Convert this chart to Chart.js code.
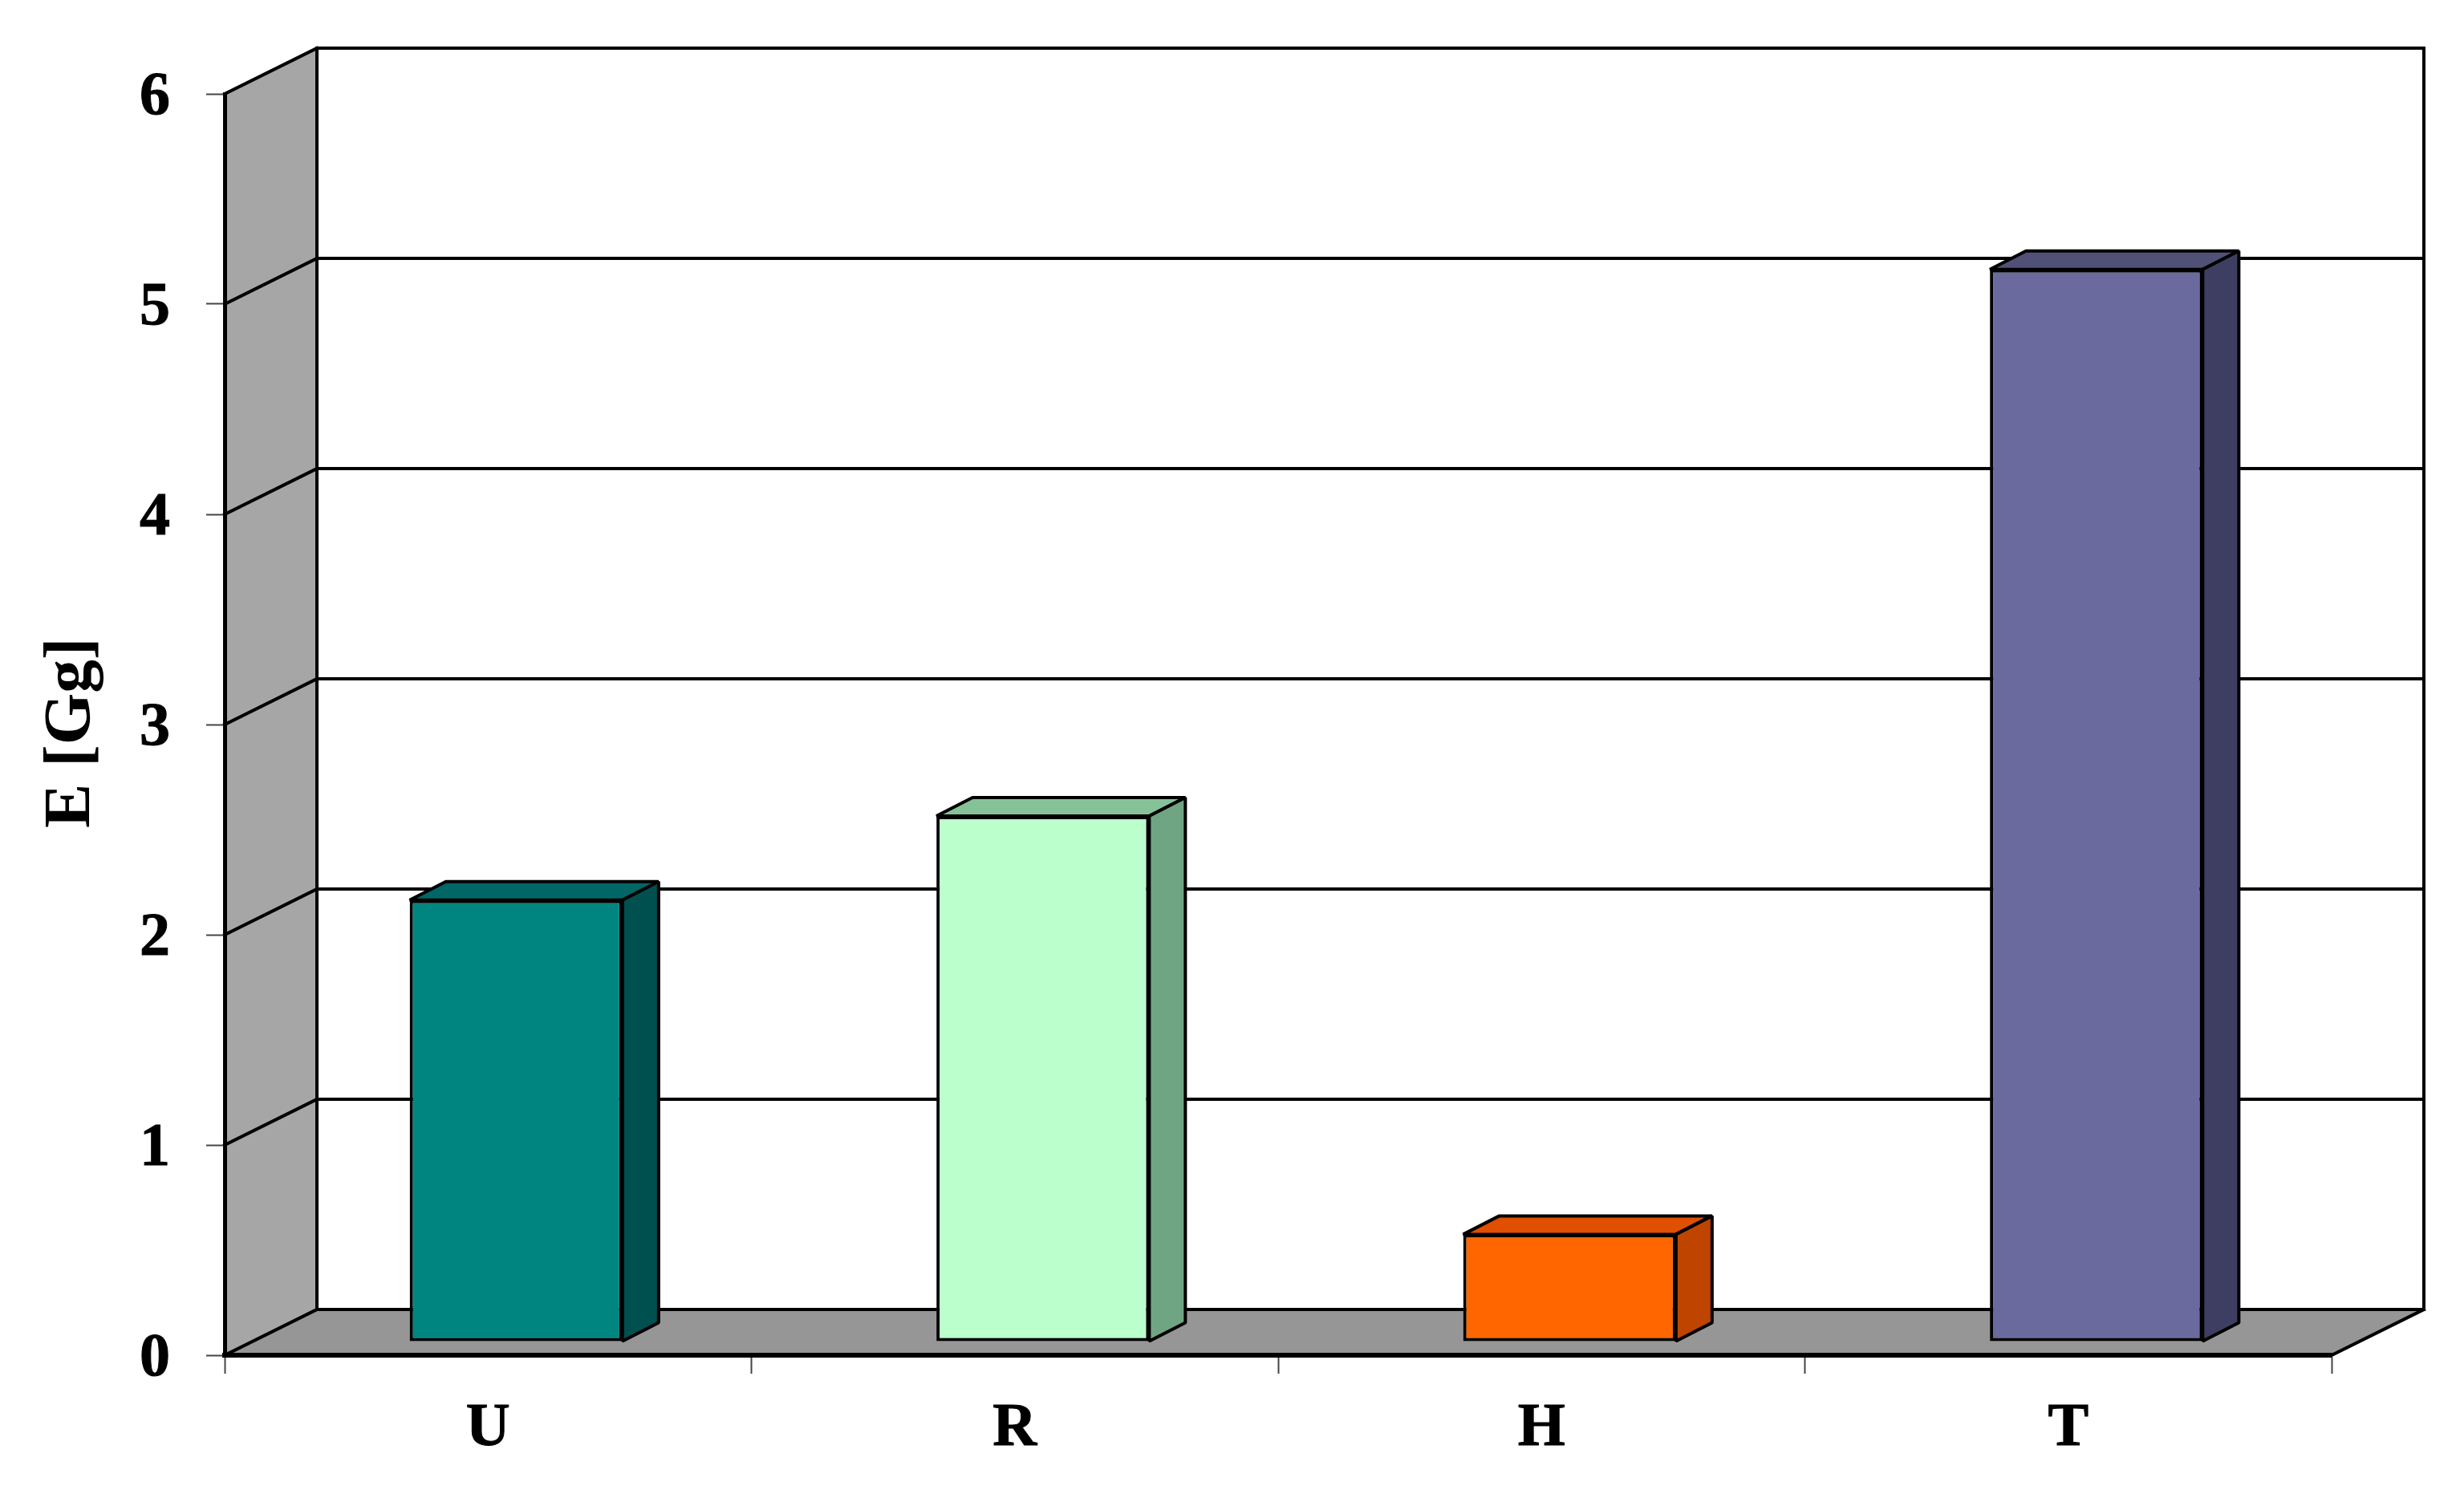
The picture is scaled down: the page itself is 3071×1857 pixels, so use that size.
<!DOCTYPE html>
<html>
<head>
<meta charset="utf-8">
<title>E [Gg]</title>
<script src="https://cdn.jsdelivr.net/npm/chart.js@4/dist/chart.umd.js"></script>
<style>
	html, body { margin: 0; padding: 0; background: #fff; }
	canvas { display: block; }
</style>
</head>
<body>
<canvas id="chart" width="3071" height="1857"></canvas>
<script>
const categories = ["U", "R", "H", "T"];
const emissions = [2.1, 2.5, 0.51, 5.1];

const frontColors = ["#008580", "#BBFFCC", "#FF6600", "#6A6A9F"];
const topColors = ["#006666", "#86C298", "#E05000", "#515178"];
const sideColors = ["#005050", "#70A583", "#BE4400", "#3E3E62"];

const WALL_DX = 115; // depth of the box
const WALL_DY = 57;
const BAR_SHIFT_X = 35; // bars stand a bit behind the front edge
const BAR_SHIFT_Y = 17;
const BAR_DX = 45; // depth of one bar
const BAR_DY = 23;

function poly(ctx, pts, fill) {
	ctx.beginPath();
	pts.forEach((p, i) => (i ? ctx.lineTo(p[0], p[1]) : ctx.moveTo(p[0], p[1])));
	ctx.closePath();
	if (fill) {
		ctx.fillStyle = fill;
		ctx.fill();
	}
}

function line(ctx, x1, y1, x2, y2) {
	ctx.beginPath();
	ctx.moveTo(x1, y1);
	ctx.lineTo(x2, y2);
	ctx.stroke();
}

// walls and floor behind everything, grid lines run along them
const boxPlugin = {
	id: "box",
	beforeDraw(chart) {
		const { ctx, chartArea, scales } = chart;
		const { left, right, top, bottom } = chartArea;

		ctx.save();
		poly(ctx, [[left, top], [left + WALL_DX, top - WALL_DY], [left + WALL_DX, bottom - WALL_DY], [left, bottom]], "#A6A6A6");
		poly(ctx, [[left, bottom], [left + WALL_DX, bottom - WALL_DY], [right + WALL_DX, bottom - WALL_DY], [right, bottom]], "#969696");

		ctx.strokeStyle = "#000";
		ctx.lineWidth = 4;
		ctx.lineCap = "square";
		scales.y.ticks.forEach((t) => {
			const y = scales.y.getPixelForValue(t.value);
			line(ctx, left, y, left + WALL_DX, y - WALL_DY);
			line(ctx, left + WALL_DX, y - WALL_DY, right + WALL_DX, y - WALL_DY);
		});
		line(ctx, left + WALL_DX, top - WALL_DY, left + WALL_DX, bottom - WALL_DY);
		line(ctx, right + WALL_DX, top - WALL_DY, right + WALL_DX, bottom - WALL_DY);
		line(ctx, right, bottom, right + WALL_DX, bottom - WALL_DY);
		ctx.restore();
	},
	// real bars get moved back, their top and side are added here
	beforeDatasetsDraw(chart) {
		const { ctx } = chart;
		ctx.save();
		ctx.translate(BAR_SHIFT_X, -BAR_SHIFT_Y);
		ctx.strokeStyle = "#000";
		ctx.lineWidth = 4;
		ctx.lineJoin = "bevel"; // no spikes on the sharp corners
		chart.getDatasetMeta(0).data.forEach((bar, i) => {
			const x1 = bar.x - bar.width / 2;
			const x2 = bar.x + bar.width / 2;
			poly(ctx, [[x1, bar.y], [x1 + BAR_DX, bar.y - BAR_DY], [x2 + BAR_DX, bar.y - BAR_DY], [x2, bar.y]], topColors[i]);
			ctx.stroke();
			poly(ctx, [[x2, bar.y], [x2 + BAR_DX, bar.y - BAR_DY], [x2 + BAR_DX, bar.base - BAR_DY], [x2, bar.base]], sideColors[i]);
			ctx.stroke();
		});
	},
	afterDatasetsDraw(chart) {
		chart.ctx.restore();
	},
};

const labelFont = { family: "'Liberation Serif'", size: 76, weight: "bold" };

new Chart(document.getElementById("chart").getContext("2d"), {
	type: "bar",
	data: {
		labels: categories,
		datasets: [
			{
				label: "E [Gg]",
				data: emissions,
				backgroundColor: frontColors,
				borderColor: "#000",
				borderWidth: 4,
				borderSkipped: false,
				barPercentage: 0.404,
				categoryPercentage: 1,
			},
		],
	},
	options: {
		responsive: false,
		animation: false,
		layout: { padding: { top: 117, right: 165, left: 0, bottom: 0 } },
		plugins: {
			legend: { display: false },
			tooltip: { enabled: false },
		},
		scales: {
			x: {
				afterFit: (scale) => {
					scale.height = 1857 - 1689;
				},
				grid: {
					drawOnChartArea: false,
					tickLength: 23,
					tickWidth: 2,
					tickColor: "#444",
				},
				border: { color: "#000", width: 6 },
				ticks: {
					color: "#000",
					font: labelFont,
					padding: 24,
					maxRotation: 0,
					textStrokeColor: "#000",
					textStrokeWidth: 1,
				},
			},
			y: {
				min: 0,
				max: 6,
				afterFit: (scale) => {
					scale.width = 280;
				},
				grid: {
					drawOnChartArea: false,
					tickLength: 23,
					tickWidth: 2,
					tickColor: "#444",
				},
				border: { color: "#000", width: 5 },
				ticks: {
					color: "#000",
					font: labelFont,
					padding: 45,
					stepSize: 1,
					labelOffset: 5,
					textStrokeColor: "#000",
					textStrokeWidth: 1,
				},
				title: {
					display: true,
					text: "E [Gg] ", // trailing space nudges the text down like the original
					color: "#000",
					font: { family: "'Liberation Serif'", size: 83, weight: "bold" },
					padding: { top: 40, bottom: 0 },
				},
			},
		},
	},
	plugins: [boxPlugin],
});
</script>
</body>
</html>
